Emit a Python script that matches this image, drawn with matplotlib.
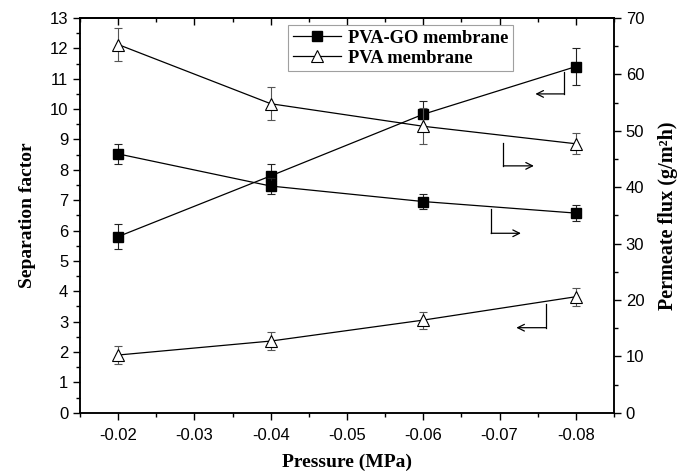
import matplotlib
matplotlib.use("Agg")
import matplotlib.pyplot as plt
from matplotlib.ticker import MultipleLocator
from matplotlib.lines import Line2D

# Dane
pressure = [-0.02, -0.04, -0.06, -0.08]

sep_pvago = [5.8, 7.8, 9.83, 11.4]
sep_pvago_err = [0.4, 0.4, 0.45, 0.6]
sep_pva = [1.9, 2.36, 3.05, 3.82]
sep_pva_err = [0.3, 0.3, 0.28, 0.3]

flux_pvago = [45.9, 40.2, 37.45, 35.4]
flux_pvago_err = [1.75, 1.5, 1.4, 1.35]
flux_pva = [65.3, 54.8, 50.8, 47.7]
flux_pva_err = [3.0, 2.9, 3.2, 1.9]

xticks = [-0.02, -0.03, -0.04, -0.05, -0.06, -0.07, -0.08]

# Strzalki (x_linii, y_gora, y_dol, x_konca) w jednostkach lewej osi
arrows = [
    (-0.0785, 11.22, 10.5, -0.0747),
    (-0.0705, 8.89, 8.13, -0.0745),
    (-0.0689, 6.70, 5.91, -0.0728),
    (-0.0761, 3.58, 2.80, -0.0722),
]

serif = "Liberation Serif"
plt.rcParams["font.family"] = "Liberation Sans"

fig = plt.figure(figsize=(6.86, 4.74), dpi=100)
ax = fig.add_axes([0.1166, 0.1293, 0.7784, 0.8327])
ax2 = ax.twinx()

lw = 0.9
err_kw = dict(elinewidth=0.8, capsize=3, capthick=0.8)
sq = dict(marker="s", ms=6.5, mfc="black", mec="black")
tri = dict(marker="^", ms=8, mfc="white", mec="black", mew=0.8)

ax.errorbar(pressure, sep_pvago, yerr=sep_pvago_err, color="black", lw=lw,
            ecolor="#222222", **sq, **err_kw)
ax.errorbar(pressure, sep_pva, yerr=sep_pva_err, color="black", lw=lw,
            ecolor="#555555", **tri, **err_kw)
ax2.errorbar(pressure, flux_pvago, yerr=flux_pvago_err, color="black", lw=lw,
             ecolor="#222222", **sq, **err_kw)
ax2.errorbar(pressure, flux_pva, yerr=flux_pva_err, color="black", lw=lw,
             ecolor="#555555", **tri, **err_kw)

for xl, yt, yb, xe in arrows:
    ax.plot([xl, xl], [yt, yb], color="black", lw=0.9)
    ax.annotate("", xy=(xe, yb), xytext=(xl, yb),
                arrowprops=dict(arrowstyle="->", lw=0.9, color="black",
                                shrinkA=0, shrinkB=0, mutation_scale=12))

ax.set_xlim(-0.015, -0.085)
ax.set_ylim(0, 13)
ax2.set_ylim(0, 70)

ax.set_xticks(xticks)
ax.set_xticklabels([f"{v:.2f}" for v in xticks])
ax.xaxis.set_minor_locator(MultipleLocator(0.005))
ax.yaxis.set_major_locator(MultipleLocator(1))
ax.yaxis.set_minor_locator(MultipleLocator(0.5))
ax2.yaxis.set_major_locator(MultipleLocator(10))
ax2.yaxis.set_minor_locator(MultipleLocator(5))

ax.tick_params(axis="x", which="both", direction="out", top=False, labelsize=12, pad=6)
ax.tick_params(axis="x", which="major", length=5, width=1)
ax.tick_params(axis="x", which="minor", length=3, width=1)
ax.tick_params(axis="y", which="major", direction="out", length=5, width=1, labelsize=12)
ax.tick_params(axis="y", which="minor", direction="out", length=3, width=1)
ax2.tick_params(axis="y", which="major", direction="out", length=5, width=1, labelsize=12)
ax2.tick_params(axis="y", which="minor", direction="out", length=3, width=1)

# gorne ticki do srodka
sec = ax.secondary_xaxis("top")
sec.xaxis.set_major_locator(MultipleLocator(0.01))
sec.xaxis.set_minor_locator(MultipleLocator(0.005))
sec.tick_params(which="both", direction="in", labeltop=False)
sec.tick_params(which="major", length=5, width=1)
sec.tick_params(which="minor", length=3, width=1)

for a in (ax, ax2):
    for s in a.spines.values():
        s.set_linewidth(1.1)
sec.spines["top"].set_linewidth(1.1)

ax.set_xlabel("Pressure (MPa)", fontfamily=serif, fontweight="bold", fontsize=14, labelpad=8)
ax.set_ylabel("Separation factor", fontfamily=serif, fontweight="bold", fontsize=14, labelpad=10)
ax2.set_ylabel("Permeate flux (g/m\u00b2h)", fontfamily=serif, fontweight="bold", fontsize=14.5, labelpad=10)

handles = [Line2D([], [], color="black", lw=lw, **sq),
           Line2D([], [], color="black", lw=lw, **tri)]
leg = ax.legend(handles, ["PVA-GO membrane", "PVA membrane"], loc="upper left",
                bbox_to_anchor=(0.3895, 0.982), frameon=True, fancybox=False,
                edgecolor="#888888", handlelength=2.6, borderpad=0.25,
                labelspacing=0.15, handletextpad=0.4, borderaxespad=0,
                prop=dict(family=serif, weight="bold", size=13.3))
leg.get_frame().set_linewidth(0.8)

fig.savefig("out.png", dpi=100)
